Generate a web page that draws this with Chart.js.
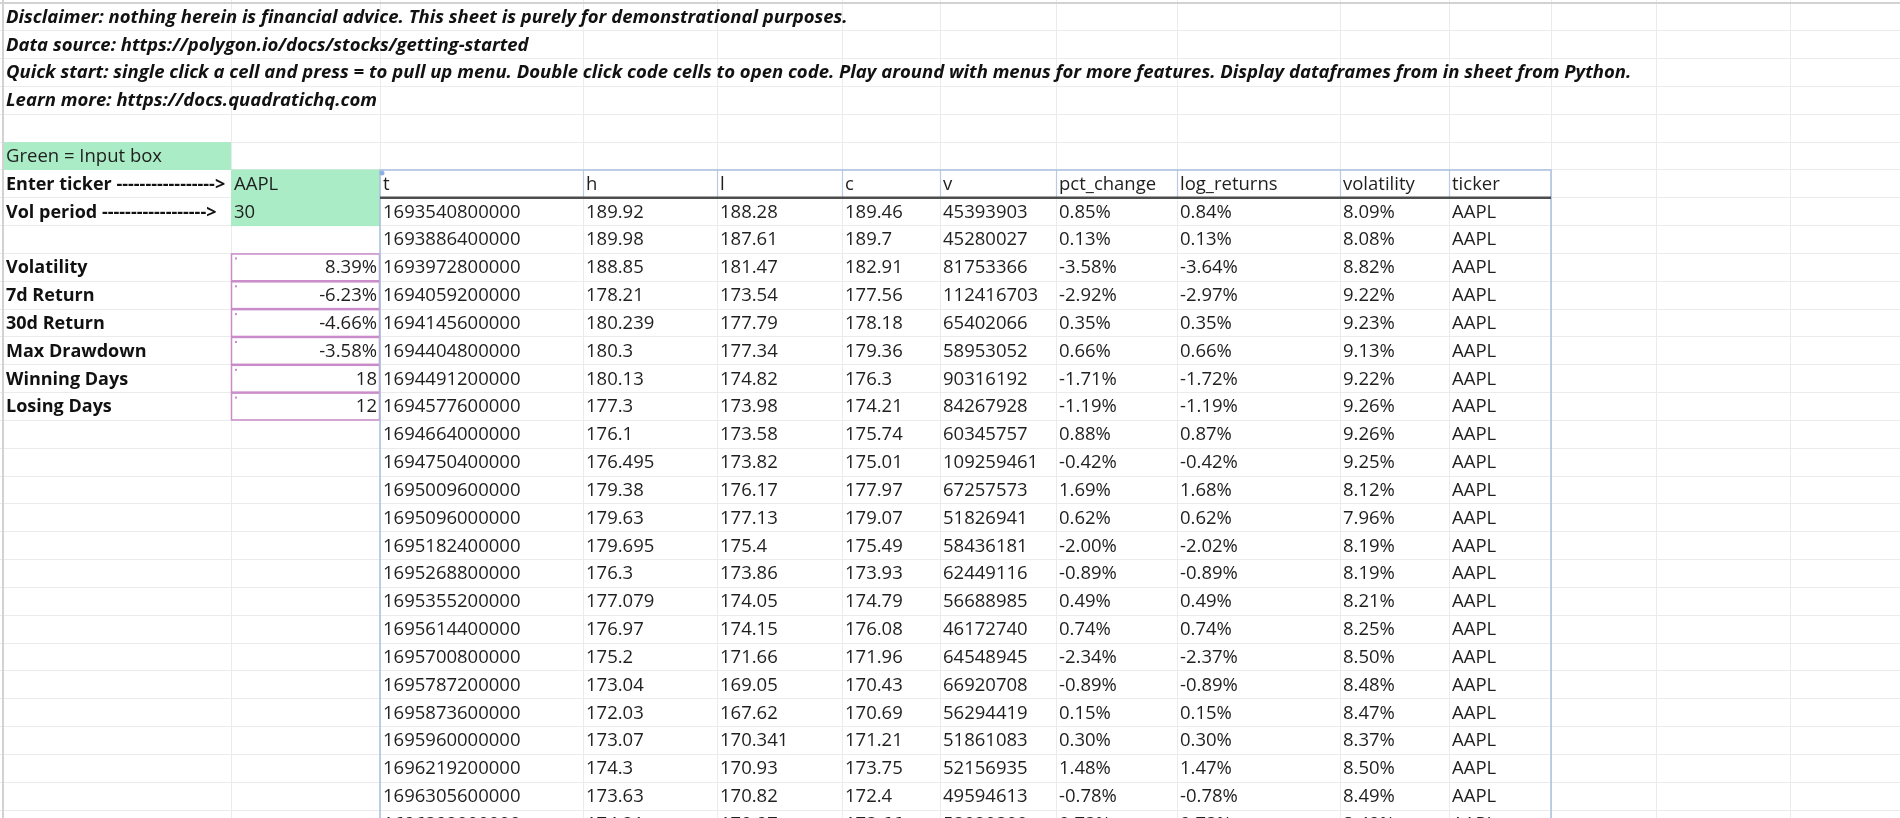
<!DOCTYPE html>
<html>
<head>
<meta charset="utf-8">
<title>AAPL volatility sheet</title>
<script src="https://cdn.jsdelivr.net/npm/chart.js@4/dist/chart.umd.min.js"></script>
<style>
  html, body { margin: 0; padding: 0; background: #fff; }
  #sheet { display: block; }
</style>
</head>
<body>
<canvas id="sheet" width="1900" height="818"></canvas>
<script>
// Sheet notes (top rows)
const notes = [
  'Disclaimer: nothing herein is financial advice. This sheet is purely for demonstrational purposes.',
  'Data source: https://polygon.io/docs/stocks/getting-started',
  'Quick start: single click a cell and press = to pull up menu. Double click code cells to open code. Play around with menus for more features. Display dataframes from in sheet from Python.',
  'Learn more: https://docs.quadratichq.com'
];

// Inputs
const inputLabels = ['Enter ticker ----------------->', 'Vol period ------------------>'];
const inputValues = ['AAPL', '30'];

// Summary stats
const statLabels = ['Volatility', '7d Return', '30d Return', 'Max Drawdown', 'Winning Days', 'Losing Days'];
const statValues = ['8.39%', '-6.23%', '-4.66%', '-3.58%', '18', '12'];

// Price table
const headers = ['t', 'h', 'l', 'c', 'v', 'pct_change', 'log_returns', 'volatility', 'ticker'];
const tVals = ['1693540800000', '1693886400000', '1693972800000', '1694059200000', '1694145600000', '1694404800000',
  '1694491200000', '1694577600000', '1694664000000', '1694750400000', '1695009600000', '1695096000000',
  '1695182400000', '1695268800000', '1695355200000', '1695614400000', '1695700800000', '1695787200000',
  '1695873600000', '1695960000000', '1696219200000', '1696305600000', '1696392000000'];
const hVals = ['189.92', '189.98', '188.85', '178.21', '180.239', '180.3', '180.13', '177.3', '176.1', '176.495',
  '179.38', '179.63', '179.695', '176.3', '177.079', '176.97', '175.2', '173.04', '172.03', '173.07', '174.3', '173.63', '174.21'];
const lVals = ['188.28', '187.61', '181.47', '173.54', '177.79', '177.34', '174.82', '173.98', '173.58', '173.82',
  '176.17', '177.13', '175.4', '173.86', '174.05', '174.15', '171.66', '169.05', '167.62', '170.341', '170.93', '170.82', '170.97'];
const cVals = ['189.46', '189.7', '182.91', '177.56', '178.18', '179.36', '176.3', '174.21', '175.74', '175.01',
  '177.97', '179.07', '175.49', '173.93', '174.79', '176.08', '171.96', '170.43', '170.69', '171.21', '173.75', '172.4', '173.66'];
const vVals = ['45393903', '45280027', '81753366', '112416703', '65402066', '58953052', '90316192', '84267928', '60345757',
  '109259461', '67257573', '51826941', '58436181', '62449116', '56688985', '46172740', '64548945', '66920708',
  '56294419', '51861083', '52156935', '49594613', '53020300'];
const pctChange = ['0.85%', '0.13%', '-3.58%', '-2.92%', '0.35%', '0.66%', '-1.71%', '-1.19%', '0.88%', '-0.42%',
  '1.69%', '0.62%', '-2.00%', '-0.89%', '0.49%', '0.74%', '-2.34%', '-0.89%', '0.15%', '0.30%', '1.48%', '-0.78%', '0.73%'];
const logReturns = ['0.84%', '0.13%', '-3.64%', '-2.97%', '0.35%', '0.66%', '-1.72%', '-1.19%', '0.87%', '-0.42%',
  '1.68%', '0.62%', '-2.02%', '-0.89%', '0.49%', '0.74%', '-2.37%', '-0.89%', '0.15%', '0.30%', '1.47%', '-0.78%', '0.73%'];
const volatility = ['8.09%', '8.08%', '8.82%', '9.22%', '9.23%', '9.13%', '9.22%', '9.26%', '9.26%', '9.25%',
  '8.12%', '7.96%', '8.19%', '8.19%', '8.21%', '8.25%', '8.50%', '8.48%', '8.47%', '8.37%', '8.50%', '8.49%', '8.49%'];
const tickers = tVals.map(() => 'AAPL');

// Layout of the sheet (column edges in px-like units, rows in row units)
const colEdges = [3, 231, 380, 583, 717, 842, 940, 1056, 1177, 1340, 1449, 1551, 1656, 1790, 1900];
const rowCount = 30;
const tableCol = 2;     // column where the price table starts
const tableRow = 6;     // header row of the price table

const FONT = '"Open Sans", "Noto Sans", sans-serif';
const textColor = '#1f1f1f';

function cellBox(chart, col, row, span) {
  const x = chart.scales.x, y = chart.scales.y;
  const x0 = x.getPixelForValue(colEdges[col]);
  const x1 = x.getPixelForValue(colEdges[col + (span || 1)]);
  const y0 = y.getPixelForValue(row);
  const y1 = y.getPixelForValue(row + 1);
  return { x0, x1, y0, y1 };
}

function cellText(ctx, chart, col, row, text, opts) {
  opts = opts || {};
  const b = cellBox(chart, col, row);
  ctx.font = opts.font || ('18.5px ' + FONT);
  ctx.fillStyle = opts.color || textColor;
  ctx.textBaseline = 'alphabetic';
  const base = b.y0 + (b.y1 - b.y0) * 0.71;
  if (opts.align === 'right') {
    ctx.textAlign = 'right';
    ctx.fillText(text, b.x1 - 3, base);
  } else {
    ctx.textAlign = 'left';
    ctx.fillText(text, b.x0 + 3, base);
  }
}

const sheetPlugin = {
  id: 'sheet',
  afterDatasetsDraw(chart) {
    const ctx = chart.ctx;
    ctx.save();
    // green input cells
    ctx.fillStyle = '#a9ecc6';
    let b = cellBox(chart, 0, 5);
    ctx.fillRect(b.x0, b.y0, b.x1 - b.x0, b.y1 - b.y0);
    inputValues.forEach((v, i) => {
      b = cellBox(chart, 1, tableRow + i);
      ctx.fillRect(b.x0, b.y0 - 0.5, b.x1 - b.x0, b.y1 - b.y0 + 1);
    });
    ctx.restore();
  },
  afterDraw(chart) {
    const ctx = chart.ctx;
    const ya = chart.scales.y, xa = chart.scales.x;
    ctx.save();

    // sheet edges
    ctx.strokeStyle = '#d2d2d2';
    ctx.lineWidth = 2;
    ctx.beginPath();
    ctx.moveTo(xa.getPixelForValue(colEdges[0]), 0);
    ctx.lineTo(xa.getPixelForValue(colEdges[0]), chart.height);
    ctx.moveTo(0, ya.getPixelForValue(0));
    ctx.lineTo(chart.width, ya.getPixelForValue(0));
    ctx.stroke();

    // notes
    notes.forEach((n, i) => {
      cellText(ctx, chart, 0, i, n, { font: 'italic bold 18.5px ' + FONT, color: '#111' });
    });

    // inputs
    cellText(ctx, chart, 0, 5, 'Green = Input box', { font: '18.5px ' + FONT });
    inputLabels.forEach((l, i) => {
      cellText(ctx, chart, 0, tableRow + i, l, { font: 'bold 18px ' + FONT, color: '#111' });
      cellText(ctx, chart, 1, tableRow + i, inputValues[i]);
    });

    // stats with code-cell boxes
    statLabels.forEach((l, i) => {
      const row = 9 + i;
      const b = cellBox(chart, 1, row);
      ctx.strokeStyle = '#c98bc9';
      ctx.lineWidth = 1.5;
      ctx.strokeRect(b.x0 + 0.5, b.y0 + 0.5, b.x1 - b.x0 - 1, b.y1 - b.y0 - 1);
      ctx.fillStyle = '#c98bc9';
      ctx.fillRect(b.x0 + 4, b.y0 + 4, 2, 2);
      cellText(ctx, chart, 0, row, l, { font: 'bold 18px ' + FONT, color: '#111' });
      cellText(ctx, chart, 1, row, statValues[i], { align: 'right' });
    });

    // price table
    const columns = [tVals, hVals, lVals, cVals, vVals, pctChange, logReturns, volatility, tickers];
    const lastCol = tableCol + headers.length;
    const tl = cellBox(chart, tableCol, tableRow);
    const right = xa.getPixelForValue(colEdges[lastCol]);

    // header separators (blue)
    ctx.strokeStyle = '#b9cbe6';
    ctx.lineWidth = 1.2;
    ctx.beginPath();
    for (let c = tableCol + 1; c < lastCol; c++) {
      const xp = Math.round(xa.getPixelForValue(colEdges[c])) + 0.5;
      ctx.moveTo(xp, tl.y0);
      ctx.lineTo(xp, tl.y1);
    }
    ctx.stroke();

    headers.forEach((h, j) => cellText(ctx, chart, tableCol + j, tableRow, h));
    columns.forEach((col, j) => {
      col.forEach((v, i) => cellText(ctx, chart, tableCol + j, tableRow + 1 + i, v));
    });

    // outer table border
    ctx.strokeStyle = '#a9c0e0';
    ctx.lineWidth = 1.5;
    ctx.beginPath();
    ctx.moveTo(tl.x0, chart.height);
    ctx.lineTo(tl.x0, tl.y0);
    ctx.lineTo(right, tl.y0);
    ctx.lineTo(right, chart.height);
    ctx.stroke();

    // dark rule under header
    ctx.strokeStyle = '#4d4d4d';
    ctx.lineWidth = 2.5;
    ctx.beginPath();
    ctx.moveTo(tl.x0, tl.y1);
    ctx.lineTo(right, tl.y1);
    ctx.stroke();

    // selection dot on first header cell
    ctx.fillStyle = '#8fb0e2';
    ctx.beginPath();
    ctx.arc(tl.x0 + 2, tl.y0 + 3, 2.5, 0, Math.PI * 2);
    ctx.fill();

    ctx.restore();
  }
};

function draw() {
  const rowPx = 27.83;
  new Chart(document.getElementById('sheet'), {
    type: 'scatter',
    data: { datasets: [] },
    plugins: [sheetPlugin],
    options: {
      responsive: false,
      animation: false,
      events: [],
      layout: { padding: 0 },
      plugins: { legend: { display: false }, tooltip: { enabled: false } },
      scales: {
        x: {
          type: 'linear',
          min: 0,
          max: 1900,
          afterBuildTicks: (scale) => { scale.ticks = colEdges.slice(0, -1).map(v => ({ value: v })); },
          ticks: { display: false },
          border: { display: false },
          grid: { color: '#ebebeb', lineWidth: 1, drawTicks: false }
        },
        y: {
          type: 'linear',
          reverse: true,
          min: -3 / rowPx,
          max: (818 - 3) / rowPx,
          afterBuildTicks: (scale) => {
            const t = [];
            for (let r = 0; r <= rowCount; r++) t.push({ value: r });
            scale.ticks = t;
          },
          ticks: { display: false },
          border: { display: false },
          grid: { color: '#ebebeb', lineWidth: 1, drawTicks: false }
        }
      }
    }
  });
}

Promise.all([
  document.fonts.load('18px "Open Sans"'),
  document.fonts.load('bold 18px "Open Sans"'),
  document.fonts.load('italic bold 18px "Open Sans"')
]).then(draw, draw);
</script>
</body>
</html>
